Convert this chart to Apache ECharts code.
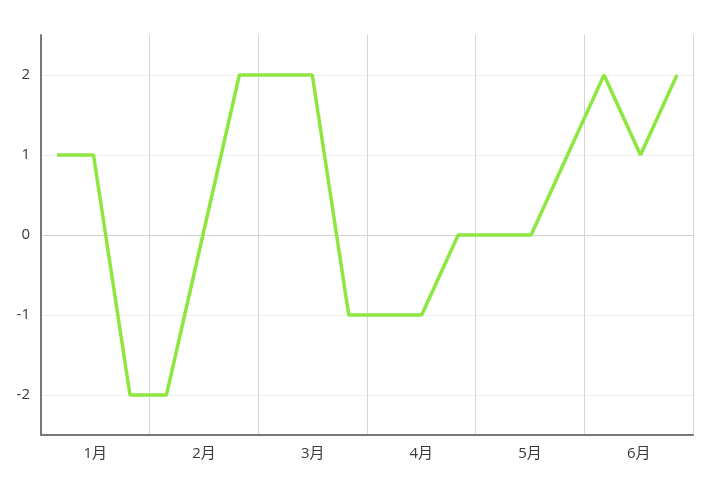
<!DOCTYPE html>
<html lang="zh">
<head>
    <meta charset="UTF-8">
    <title>Line</title>
    <script src="https://cdn.jsdelivr.net/npm/echarts@6/dist/echarts.min.js"></script>
    <style>body{margin:0;background:#fff;}</style>
</head>
<body>
    <div id="main" style="width:720px;height:489px;"></div>
    <script>
    // 月份 + 每月三个点
    var months = ['1月', '2月', '3月', '4月', '5月', '6月'];
    var values = [1, 1, -2, -2, 0, 2, 2, 2, -1, -1, -1, 0, 0, 0, 1, 2, 1, 2];
    var yTicks = [-2, -1, 0, 1, 2];

    var myChart = echarts.init(document.getElementById('main'));
    var fontFam = '"Open Sans", "Noto Sans CJK SC", sans-serif';

    myChart.setOption({
        animation: false,
        grid: { left: 41, right: 27, top: 35, bottom: 54, containLabel: false },
        xAxis: [{
            type: 'category',
            data: months,
            boundaryGap: true,
            axisLine: { onZero: false, lineStyle: { color: '#777', width: 2 } },
            axisTick: { show: false },
            axisLabel: { color: '#3a3a3a', fontSize: 15, margin: 11, fontFamily: fontFam },
            splitLine: { show: true, lineStyle: { color: '#d6d6d6', width: 1 } }
        }, {
            // 隐藏的数值轴，用于定位18个点
            type: 'value',
            show: false,
            min: -0.44,
            max: values.length - 1 + 0.44
        }],
        yAxis: {
            type: 'value',
            min: -2.5,
            max: 2.5,
            splitNumber: 5,
            axisLine: { show: true, onZero: false, lineStyle: { color: '#777', width: 2 } },
            axisTick: { show: false },
            axisLabel: {
                color: '#3a3a3a', fontSize: 15, margin: 11, fontFamily: fontFam,
                showMinLabel: false, showMaxLabel: false,
                formatter: function (v) { return yTicks.indexOf(v) >= 0 ? String(v) : ''; }
            },
            splitLine: {
                show: true,
                lineStyle: {
                    color: ['rgba(0,0,0,0)', '#efefef', '#efefef', '#d2d2d2', '#efefef', '#efefef', 'rgba(0,0,0,0)'],
                    width: 1
                }
            }
        },
        series: [{
            type: 'line',
            xAxisIndex: 1,
            data: values.map(function (v, i) { return [i, v]; }),
            showSymbol: false,
            lineStyle: { color: '#8ee641', width: 3.5 },
            itemStyle: { color: '#8ee641' }
        }]
    });
    </script>
</body>
</html>
